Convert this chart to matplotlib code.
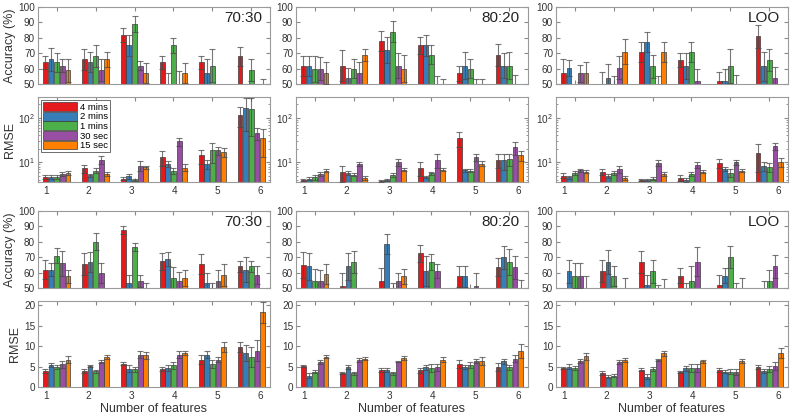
import numpy as np
import matplotlib.pyplot as plt
from matplotlib.ticker import NullFormatter, LogLocator

plt.rcParams['font.family'] = ['Liberation Sans', 'DejaVu Sans']

# series / groups
series = ['4 mins', '2 mins', '1 mins', '30 sec', '15 sec']
colors = ['#e41a1c', '#377eb8', '#4daf4a', '#984ea3', '#ff7f00']
n_features = [1, 2, 3, 4, 5, 6]
tick_labels = ['1', '2', '3', '4', '5', '6']
split_names = ['70:30', '80:20', 'LOO']

# ---------- top half: accuracy (rows = series, cols = number of features) ----------
acc_a_7030 = [[64, 66, 82, 64, 64, 68],
              [66, 64, 75, 48, 57, 45],
              [64, 68, 89, 75, 62, 59],
              [62, 59, 62, 48, 45, 45],
              [59, 66, 57, 57, 45, 48]]
acc_a_7030_err = [[4.5, 7, 4.5, 4.5, 4.5, 6],
                  [7.5, 6.5, 7, 9, 9.5, 2],
                  [6, 7, 5, 5, 10.5, 7],
                  [4, 7, 3, 10.5, 2, 2],
                  [7.5, 5, 6.5, 6.5, 2, 5]]
acc_a_8020 = [[62, 62, 78, 75, 57, 69],
              [62, 54, 72, 75, 62, 62],
              [60, 60, 84, 69, 60, 62],
              [60, 57, 62, 48, 48, 48],
              [57, 69, 60, 48, 48, 45]]
acc_a_8020_err = [[6.5, 10, 6.5, 5.5, 5, 7],
                  [6.5, 6.5, 8.5, 7, 9, 8],
                  [8.5, 6, 7, 6, 6, 9],
                  [7.5, 7.5, 8, 7, 5, 8],
                  [7, 4, 9, 5, 5, 2]]
acc_a_loo = [[57, 48, 71, 65.5, 52, 81],
             [60.5, 54, 77.5, 61.5, 52, 61.5],
             [45, 48, 61.5, 71, 61.5, 65.5],
             [57, 60.5, 48, 52, 48, 54],
             [57, 71, 71, 45, 45, 45]]
acc_a_loo_err = [[9, 10, 6.5, 4.5, 6, 7.5],
                 [5, 9, 6.5, 8.5, 8, 9.5],
                 [2, 7.5, 7.5, 6.5, 11, 7],
                 [5.5, 7.5, 7, 8, 8, 7],
                 [7.5, 8, 6.5, 2, 2, 2]]

# ---------- top half: RMSE (log scale) ----------
rmse_a_7030 = [[4.7, 7.3, 4.3, 13.2, 14.2, 115],
               [4.7, 5.1, 4.8, 9.2, 9.2, 163],
               [4.7, 6.5, 4.0, 6.4, 18.4, 157],
               [5.5, 11.5, 8.4, 29.5, 18.4, 44.8],
               [5.7, 5.4, 7.7, 7.6, 16.9, 35]]
rmse_a_7030_err = [[0.4, 1.5, 0.4, 4.9, 4.9, 54],
                   [0.5, 0.4, 0.7, 1.5, 2.1, 112],
                   [0.4, 0.8, 0.3, 0.9, 8.6, 118],
                   [0.5, 2.2, 2.0, 6.2, 3.6, 14],
                   [0.5, 0.6, 0.5, 1.4, 4.1, 22]]
rmse_a_8020 = [[4.0, 6.0, 3.8, 7.4, 35, 11.5],
               [4.3, 5.8, 4.0, 4.7, 6.6, 11.1],
               [4.6, 5.3, 5.15, 5.7, 6.5, 11.9],
               [5.5, 9.0, 10, 11.3, 12.8, 21.5],
               [6.5, 4.4, 6.8, 6.8, 9.3, 14.4]]
rmse_a_8020_err = [[0.3, 2.4, 0.2, 2.6, 13, 4],
                   [0.4, 0.5, 0.3, 0.3, 0.6, 4.4],
                   [0.6, 0.4, 0.6, 0.4, 0.5, 3.6],
                   [0.6, 0.9, 1.9, 3.7, 2.2, 7],
                   [0.5, 0.5, 0.6, 0.6, 1.2, 3.6]]
rmse_a_loo = [[5.0, 6.1, 4.0, 4.4, 9.7, 16],
              [4.6, 5.0, 4.0, 4.0, 7.2, 8.2],
              [5.7, 5.8, 4.3, 5.4, 5.8, 7.7],
              [6.6, 7.0, 9.7, 8.7, 10, 23],
              [6.1, 4.4, 5.4, 6.1, 6.5, 10.2]]
rmse_a_loo_err = [[0.6, 0.9, 0.3, 0.7, 2.2, 10],
                  [0.4, 0.5, 0.3, 0.4, 0.7, 1.8],
                  [0.5, 0.6, 0.4, 0.5, 1.2, 1.8],
                  [0.5, 1.4, 1.6, 1.3, 1.3, 4.5],
                  [0.5, 0.5, 0.5, 0.5, 0.5, 2.3]]

# ---------- bottom half: accuracy ----------
acc_b_7030 = [[62, 65.5, 87.5, 67.5, 65.5, 64],
              [62, 67, 53, 69, 53, 62],
              [71, 80, 76.5, 56.5, 48, 64],
              [66, 60, 54.5, 54.5, 54.5, 58.5],
              [57.5, 45, 48, 56.5, 58.5, 45]]
acc_b_7030_err = [[6, 7, 2.5, 5.5, 6.5, 3.5],
                  [4, 6.5, 5.5, 4.5, 7, 8],
                  [5, 5.5, 2.5, 7, 5, 3.5],
                  [8, 6.5, 4, 6, 7, 6],
                  [4.5, 2, 5.5, 5.5, 7, 2]]
acc_b_8020 = [[65, 51.5, 54.5, 72.5, 57.5, 63.5],
              [64, 64, 78.5, 61, 57.5, 70],
              [54.5, 67, 48, 67, 45, 67],
              [54.5, 45, 54.5, 61, 51.5, 63.5],
              [59, 45, 57.5, 45, 45, 48]]
acc_b_8020_err = [[8.5, 8, 8.5, 5.5, 7, 6],
                  [8.5, 8.5, 6.5, 10, 7, 7.5],
                  [8, 7, 5, 5, 2, 8.5],
                  [7, 2, 5.5, 4.5, 8, 7.5],
                  [6.5, 2, 5, 2, 2, 7]]
acc_b_loo = [[45, 61, 67, 58, 52, 45],
             [61, 67, 52, 48, 58, 48],
             [58, 58, 61, 54.5, 70, 54.5],
             [58, 45, 48, 67, 48, 64],
             [48, 48, 48, 45, 48, 45]]
acc_b_loo_err = [[2, 7, 7, 5, 6.5, 2],
                 [7.5, 8, 6.5, 5, 5, 6.5],
                 [8, 6.5, 7.5, 10, 7, 7.5],
                 [8, 2, 4, 9.5, 5.5, 7.5],
                 [9.5, 8.5, 8, 2, 8.5, 2]]

# ---------- bottom half: RMSE (linear) ----------
rmse_b_7030 = [[3.9, 4.0, 5.7, 4.4, 6.7, 9.7],
               [5.3, 5.1, 4.5, 4.6, 7.9, 8.3],
               [4.9, 3.8, 4.3, 5.3, 5.7, 7.3],
               [5.5, 6.2, 7.9, 7.9, 6.7, 8.9],
               [6.7, 7.3, 7.7, 8.4, 9.7, 18.2]]
rmse_b_7030_err = [[0.4, 0.5, 0.4, 0.5, 1.0, 1.2],
                   [0.5, 0.3, 0.8, 0.7, 0.8, 2.0],
                   [0.4, 0.3, 0.6, 0.9, 1.0, 2.4],
                   [0.8, 0.4, 0.9, 0.8, 0.6, 2.6],
                   [0.8, 0.4, 0.8, 0.5, 1.2, 2.6]]
rmse_b_8020 = [[5.2, 3.4, 4.2, 4.1, 5.7, 4.9],
               [2.8, 4.8, 4.2, 4.8, 4.8, 6.3],
               [3.7, 3.3, 3.3, 4.6, 5.3, 4.8],
               [6.0, 6.6, 6.2, 4.8, 6.4, 6.9],
               [7.4, 6.9, 7.1, 6.7, 6.3, 8.7]]
rmse_b_8020_err = [[0.2, 0.2, 0.5, 0.6, 1.0, 1.0],
                   [0.5, 0.5, 0.5, 0.6, 0.5, 0.6],
                   [0.4, 0.4, 0.4, 0.9, 0.7, 0.6],
                   [0.5, 0.5, 0.2, 0.9, 0.5, 0.9],
                   [0.4, 0.4, 0.4, 0.7, 1.0, 1.7]]
rmse_b_loo = [[4.6, 3.4, 4.2, 3.7, 4.2, 4.8],
              [5.0, 2.5, 2.5, 4.6, 3.7, 4.0],
              [4.6, 2.8, 4.4, 4.6, 3.7, 4.4],
              [6.3, 6.1, 6.6, 4.6, 3.6, 5.2],
              [7.5, 6.7, 8.2, 6.3, 6.3, 8.3]]
rmse_b_loo_err = [[0.2, 0.4, 0.4, 0.3, 0.5, 0.5],
                  [0.5, 0.4, 0.6, 0.6, 0.4, 0.5],
                  [0.5, 0.3, 0.5, 0.9, 0.6, 0.7],
                  [0.5, 0.4, 0.3, 0.9, 0.7, 1.0],
                  [0.9, 0.5, 0.7, 0.4, 0.5, 1.3]]

acc_top = [(acc_a_7030, acc_a_7030_err), (acc_a_8020, acc_a_8020_err), (acc_a_loo, acc_a_loo_err)]
rmse_top = [(rmse_a_7030, rmse_a_7030_err), (rmse_a_8020, rmse_a_8020_err), (rmse_a_loo, rmse_a_loo_err)]
acc_bot = [(acc_b_7030, acc_b_7030_err), (acc_b_8020, acc_b_8020_err), (acc_b_loo, acc_b_loo_err)]
rmse_bot = [(rmse_b_7030, rmse_b_7030_err), (rmse_b_8020, rmse_b_8020_err), (rmse_b_loo, rmse_b_loo_err)]

W, H = 794, 418
fig = plt.figure(figsize=(W / 100, H / 100), dpi=100)

col_left = [38, 296, 556]
col_w = 232
row_top = [7, 97, 211, 301]
row_h = [77, 85, 77, 86]

slot = 0.145
bar_w = 0.125
label_pos = np.linspace(0.72, 6.23, 6)
grey = '#9a9a9a'
txt = '#333333'


def make_ax(col, row):
    l = col_left[col] / W
    b = 1 - (row_top[row] + row_h[row]) / H
    return fig.add_axes([l, b, col_w / W, row_h[row] / H])


def draw_bars(ax, means, errs, bottom=0):
    x = np.array(n_features, dtype=float)
    for k in range(len(series)):
        xs = x + (k - 2) * slot
        m = np.array(means[k], dtype=float)
        e = np.array(errs[k], dtype=float)
        ax.bar(xs, m - bottom, bar_w, bottom=bottom, color=colors[k],
               edgecolor='#3a3a3a', linewidth=0.5, label=series[k], zorder=2)
        ax.errorbar(xs, m, yerr=e, fmt='none', ecolor='#4a4a4a', elinewidth=0.8,
                    capsize=2.2, capthick=0.8, alpha=0.75, zorder=3)


def style_ax(ax, show_xlabels):
    ax.set_xlim(0.52, 6.48)
    ax.set_xticks(n_features)
    ax.set_xticklabels([])
    ax.set_xticks(label_pos, minor=True)
    ax.set_xticklabels(tick_labels if show_xlabels else [''] * 6, minor=True)
    ax.tick_params(which='both', direction='in', top=True, right=True,
                   color='#888888', labelcolor=txt, labelsize=7.2)
    ax.tick_params(axis='x', which='minor', length=0, pad=3)
    ax.tick_params(axis='x', which='major', length=3)
    ax.tick_params(axis='y', pad=2)
    for s in ax.spines.values():
        s.set_color(grey)
        s.set_linewidth(0.8)


for row_off, acc_list, rmse_list in [(0, acc_top, rmse_top), (2, acc_bot, rmse_bot)]:
    for c in range(3):
        ax = make_ax(c, row_off)
        draw_bars(ax, *acc_list[c], bottom=0)
        ax.set_ylim(50, 100)
        ax.set_yticks([50, 60, 70, 80, 90, 100])
        style_ax(ax, False)
        ax.tick_params(axis='y', length=3)
        ax.text(0.965, 0.86, split_names[c], transform=ax.transAxes, ha='right',
                va='center', fontsize=11, color='#222222')
        if c == 0:
            ax.set_ylabel('Accuracy (%)', fontsize=9, color=txt, labelpad=2)

        ax = make_ax(c, row_off + 1)
        if row_off == 0:
            ax.set_yscale('log')
            draw_bars(ax, *rmse_list[c], bottom=1)
            ax.set_ylim(3.6, 290)
            ax.yaxis.set_major_locator(LogLocator(base=10, numticks=5))
            ax.yaxis.set_minor_locator(LogLocator(base=10, subs=np.arange(2, 10), numticks=10))
            ax.yaxis.set_minor_formatter(NullFormatter())
        else:
            draw_bars(ax, *rmse_list[c], bottom=0)
            ax.set_ylim(0, 21)
            ax.set_yticks([0, 5, 10, 15, 20])
            ax.set_xlabel('Number of features', fontsize=9, color=txt, labelpad=1)
        style_ax(ax, True)
        ax.tick_params(axis='y', which='major', length=3)
        ax.tick_params(axis='y', which='minor', length=1.5)
        if c == 0:
            ax.set_ylabel('RMSE', fontsize=9, color=txt, labelpad=2)
        if row_off == 0 and c == 0:
            leg = ax.legend(loc='upper left', fontsize=6.8, handlelength=3.6,
                            handleheight=1.05, labelspacing=0.0, handletextpad=0.3,
                            borderpad=0.2, borderaxespad=0.35, fancybox=False,
                            edgecolor='#555555', framealpha=1)
            leg.get_frame().set_linewidth(0.6)

fig.savefig('out.png', dpi=100)
